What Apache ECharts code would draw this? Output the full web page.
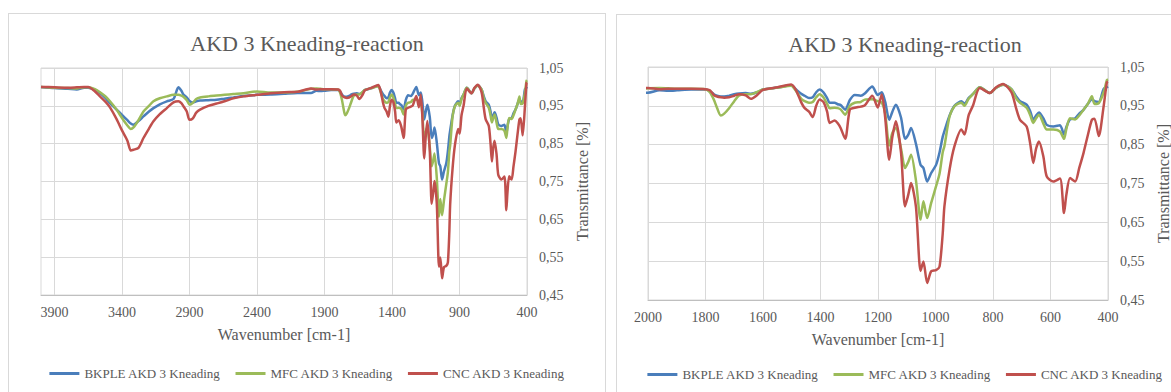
<!DOCTYPE html>
<html>
<head>
<meta charset="utf-8">
<script src="https://cdn.jsdelivr.net/npm/echarts@6/dist/echarts.min.js"></script>
<style>
  body { margin: 0; background: #fff; width: 1171px; height: 392px; overflow: hidden; position: relative; }
  .panel { position: absolute; border: 1px solid #d9d9d9; height: 400px; }
  #left { left: 8px; top: 13px; width: 596px; }
  #right { left: 616px; top: 14px; width: 576px; }
</style>
</head>
<body>
<div id="left" class="panel"></div>
<div id="right" class="panel"></div>
<script>
// wavenumbers in cm-1, high to low
const wavenumbers = [4000, 3900, 3800, 3735, 3680, 3650, 3600, 3563, 3520, 3489, 3440, 3400, 3360, 3335, 3315, 3278, 3241, 3200, 3167, 3120,
  3068, 3019, 2982, 2960, 2945, 2920, 2900, 2875, 2850, 2822, 2760, 2699, 2640, 2575, 2500, 2400, 2300, 2200, 2100, 2000,
  1960, 1930, 1899, 1850, 1800, 1785, 1771, 1760, 1747, 1735, 1718, 1700, 1683, 1660, 1642, 1620, 1600, 1549, 1502, 1485,
  1467, 1455, 1440, 1427, 1415, 1403, 1390, 1377, 1368, 1351, 1340, 1330, 1314, 1298, 1281, 1260, 1246, 1220, 1201, 1187,
  1175, 1161, 1150, 1138, 1120, 1106, 1095, 1085, 1068, 1052, 1042, 1029, 1015, 998, 986, 975, 969, 951, 934, 910,
  899, 885, 870, 846, 811, 790, 765, 736, 720, 706, 683, 670, 660, 650, 640, 625, 613, 590, 567, 553,
  545, 532, 514, 500, 485, 470, 456, 447, 432, 415, 404, 400];

const bkple = [1.000, 0.997, 0.995, 0.993, 0.998, 0.998, 0.992, 0.984, 0.970, 0.957, 0.940, 0.926, 0.912, 0.903, 0.900, 0.910, 0.922, 0.935, 0.944, 0.954,
  0.962, 0.968, 0.999, 0.990, 0.980, 0.972, 0.963, 0.959, 0.962, 0.964, 0.965, 0.966, 0.969, 0.972, 0.976, 0.979, 0.980, 0.982, 0.984, 0.984,
  0.990, 0.989, 0.990, 0.992, 0.992, 0.988, 0.980, 0.976, 0.974, 0.974, 0.976, 0.980, 0.982, 0.983, 0.981, 0.985, 0.992, 0.997, 1.003, 0.992,
  0.981, 0.976, 0.970, 0.972, 0.985, 0.992, 0.985, 0.970, 0.958, 0.958, 0.954, 0.952, 0.940, 0.965, 0.978, 0.976, 0.982, 1.000, 0.978, 0.985,
  0.960, 0.914, 0.935, 0.953, 0.920, 0.865, 0.875, 0.893, 0.852, 0.798, 0.790, 0.755, 0.777, 0.798, 0.830, 0.870, 0.885, 0.925, 0.950, 0.962,
  0.955, 0.970, 0.980, 0.998, 0.983, 0.996, 1.004, 0.993, 0.975, 0.962, 0.953, 0.935, 0.914, 0.925, 0.933, 0.918, 0.901, 0.897, 0.900, 0.876,
  0.895, 0.915, 0.918, 0.930, 0.940, 0.955, 0.967, 0.962, 0.960, 0.994, 0.998, 1.000];

const mfc = [1.000, 0.998, 0.997, 0.996, 0.999, 0.999, 0.994, 0.986, 0.974, 0.962, 0.940, 0.918, 0.898, 0.889, 0.893, 0.912, 0.935, 0.950, 0.962, 0.970,
  0.975, 0.979, 0.979, 0.977, 0.974, 0.965, 0.953, 0.958, 0.968, 0.972, 0.975, 0.977, 0.979, 0.981, 0.983, 0.988, 0.985, 0.985, 0.987, 0.995,
  0.996, 0.995, 0.994, 0.994, 0.993, 0.985, 0.966, 0.945, 0.925, 0.930, 0.944, 0.962, 0.977, 0.980, 0.980, 0.986, 0.992, 0.997, 1.002, 0.988,
  0.968, 0.962, 0.958, 0.960, 0.972, 0.980, 0.972, 0.955, 0.944, 0.945, 0.944, 0.941, 0.927, 0.950, 0.958, 0.960, 0.966, 0.967, 0.962, 0.958,
  0.930, 0.848, 0.880, 0.893, 0.840, 0.790, 0.805, 0.824, 0.758, 0.657, 0.704, 0.661, 0.700, 0.743, 0.775, 0.830, 0.846, 0.923, 0.949, 0.958,
  0.950, 0.968, 0.980, 0.998, 0.983, 0.996, 1.004, 0.993, 0.970, 0.958, 0.945, 0.925, 0.906, 0.918, 0.927, 0.905, 0.889, 0.889, 0.884, 0.865,
  0.890, 0.918, 0.915, 0.925, 0.940, 0.955, 0.975, 0.955, 0.957, 0.985, 1.016, 1.018];

const cnc = [1.000, 0.999, 0.998, 0.999, 1.000, 1.000, 0.988, 0.975, 0.960, 0.946, 0.915, 0.885, 0.858, 0.832, 0.834, 0.839, 0.865, 0.890, 0.909, 0.928,
  0.944, 0.959, 0.962, 0.957, 0.949, 0.935, 0.913, 0.917, 0.932, 0.940, 0.950, 0.956, 0.962, 0.970, 0.975, 0.979, 0.983, 0.986, 0.987, 0.996,
  0.993, 0.994, 0.994, 0.994, 0.993, 0.990, 0.978, 0.974, 0.972, 0.971, 0.972, 0.976, 0.980, 0.977, 0.968, 0.978, 0.991, 0.998, 1.005, 0.990,
  0.959, 0.944, 0.935, 0.921, 0.950, 0.966, 0.960, 0.935, 0.906, 0.912, 0.905, 0.893, 0.865, 0.940, 0.945, 0.948, 0.951, 0.976, 0.946, 0.979,
  0.920, 0.811, 0.870, 0.910, 0.830, 0.691, 0.720, 0.751, 0.690, 0.525, 0.549, 0.494, 0.524, 0.527, 0.536, 0.620, 0.691, 0.786, 0.846, 0.889,
  0.876, 0.925, 0.950, 0.996, 0.983, 0.997, 1.006, 0.985, 0.945, 0.914, 0.897, 0.850, 0.803, 0.840, 0.858, 0.820, 0.768, 0.755, 0.763, 0.674,
  0.720, 0.764, 0.755, 0.790, 0.829, 0.875, 0.914, 0.917, 0.872, 0.950, 1.010, 1.012];

const seriesNames = ['BKPLE AKD 3 Kneading', 'MFC AKD 3 Kneading', 'CNC AKD 3 Kneading'];
const seriesColors = ['#4a7ebb', '#9bbb59', '#c0504d'];
const wideTicks = [3900, 3400, 2900, 2400, 1900, 1400, 900, 400];
const yTicks = [0.45, 0.55, 0.65, 0.75, 0.85, 0.95, 1.05];

const font = 'Liberation Serif';
const grey = '#595959';

function pairs(values) {
  return wavenumbers.map((w, i) => [w, values[i]]);
}

function buildOption(xMin, xMax, xOpts, grid, nameGapY) {
  const xLabel = { fontFamily: font, fontSize: 14, color: grey, margin: 10, formatter: v => String(v) };
  return {
    animation: false,
    textStyle: { fontFamily: font },
    title: {
      text: 'AKD 3 Kneading-reaction',
      left: 'center',
      top: 13,
      textStyle: { fontFamily: font, fontSize: 22, fontWeight: 'normal', color: grey }
    },
    legend: {
      top: 348,
      left: 'center',
      icon: 'rect',
      itemWidth: 30,
      itemHeight: 3,
      itemGap: 15,
      textStyle: { fontFamily: font, fontSize: 13, color: grey },
      data: seriesNames
    },
    grid: Object.assign({ show: true, borderColor: '#d9d9d9', borderWidth: 1 }, grid),
    xAxis: Object.assign({
      type: 'value',
      inverse: true,
      min: xMin,
      max: xMax,
      name: 'Wavenumber [cm-1]',
      nameLocation: 'middle',
      nameGap: 31,
      nameTextStyle: { fontFamily: font, fontSize: 16, color: grey },
      axisLine: { lineStyle: { color: '#bfbfbf' } },
      axisTick: { show: false },
      axisLabel: xLabel,
      splitLine: { lineStyle: { color: '#d9d9d9' } }
    }, xOpts(xLabel)),
    yAxis: {
      type: 'value',
      position: 'right',
      min: 0.45,
      max: 1.05,
      name: 'Transmittance [%]',
      nameLocation: 'middle',
      nameRotate: 90,
      nameGap: nameGapY,
      nameTextStyle: { fontFamily: font, fontSize: 16, color: grey },
      axisLine: { show: false },
      axisTick: { show: false, customValues: yTicks },
      axisLabel: {
        fontFamily: font, fontSize: 14, color: grey, margin: 12,
        customValues: yTicks,
        formatter: v => v.toFixed(2).replace('.', ',')
      },
      splitLine: { lineStyle: { color: '#d9d9d9' } }
    },
    series: [bkple, mfc, cnc].map((vals, i) => ({
      name: seriesNames[i],
      type: 'line',
      data: pairs(vals),
      symbol: 'none',
      smooth: 0.25,
      color: seriesColors[i],
      lineStyle: { width: 2.5, color: seriesColors[i] }
    }))
  };
}

const leftChart = echarts.init(document.getElementById('left'), null, { renderer: 'svg' });
leftChart.setOption(buildOption(400, 4000, lbl => ({
  axisTick: { show: false, customValues: wideTicks },
  axisLabel: Object.assign({}, lbl, { customValues: wideTicks })
}), { left: 32, top: 54, width: 486, height: 227 }, 41));

const rightChart = echarts.init(document.getElementById('right'), null, { renderer: 'svg' });
rightChart.setOption(buildOption(400, 2000, () => ({ interval: 200 }),
  { left: 31, top: 52, width: 460, height: 233 }, 37));
</script>
</body>
</html>
